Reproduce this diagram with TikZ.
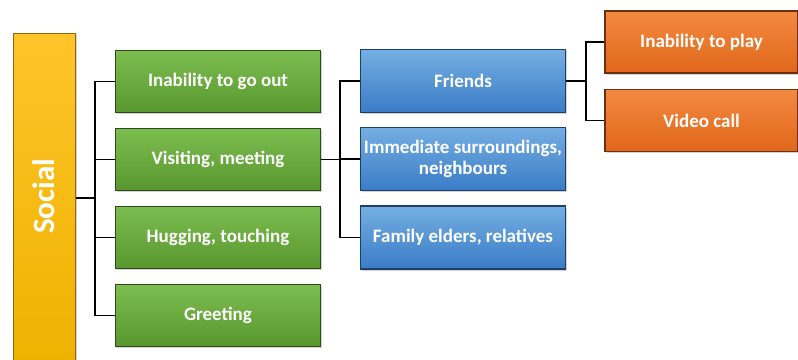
\documentclass[tikz,border=0pt]{standalone}
\usepackage{fontspec}
\setmainfont{Carlito}
\usetikzlibrary{shadows}
\definecolor{gtop}{HTML}{7CBD50}
\definecolor{gbot}{HTML}{58972E}
\definecolor{gline}{HTML}{2E4A1A}
\definecolor{btop}{HTML}{74AEE2}
\definecolor{bbot}{HTML}{3A7CC6}
\definecolor{bline}{HTML}{1F3F66}
\definecolor{otop}{HTML}{F38A40}
\definecolor{obot}{HTML}{E0661A}
\definecolor{oline}{HTML}{6A3010}
\definecolor{ytop}{HTML}{FFC42A}
\definecolor{ybot}{HTML}{EEB200}
\definecolor{yline}{HTML}{8A6A10}
\tikzset{
  box/.style={rectangle, inner sep=1pt, align=center, text=white,
    font=\fontsize{19}{21}\selectfont\bfseries, line width=1.2pt,
    drop shadow={shadow xshift=1.5pt, shadow yshift=-1.5pt, opacity=0.35}},
  gbox/.style={box, minimum width=205pt, minimum height=62pt, draw=gline, top color=gtop, bottom color=gbot},
  bbox/.style={box, minimum width=205pt, minimum height=63pt, draw=bline, top color=btop, bottom color=bbot},
  obox/.style={box, minimum width=193pt, minimum height=62pt, draw=oline, top color=otop, bottom color=obot},
  conn/.style={line width=1.3pt, black}
}
\begin{document}
\begin{tikzpicture}[x=1pt,y=-1pt]
\useasboundingbox (0,0) rectangle (798,359);
% Social bar
\node[box, minimum width=62pt, minimum height=330pt, draw=yline, top color=ytop, bottom color=ybot, anchor=north west] (social) at (13,33) {};
\node[text=white, rotate=90, font=\fontsize{31}{33}\selectfont\bfseries] (soctext) at (44,196.5) {Social};
% green
\node[gbox] (g1) at (218,81.5) {Inability to go out};
\node[gbox] (g2) at (218,159.5) {Visiting, meeting};
\node[gbox] (g3) at (218,237.5) {Hugging, touching};
\node[gbox] (g4) at (218,315.5) {Greeting};
% blue
\node[bbox] (b1) at (463,81) {Friends};
\node[bbox] (b2) at (463,159) {Immediate surroundings,\\neighbours};
\node[bbox] (b3) at (463,237.5) {Family elders, relatives};
% orange
\node[obox] (o1) at (701.5,42) {Inability to play};
\node[obox] (o2) at (701.5,120.5) {Video call};
% connectors
\coordinate (j1) at (95,198);
\draw[conn] (social.east |- j1) -- (j1);
\draw[conn] (g1.west) -| (j1);
\draw[conn] (g2.west) -| (j1);
\draw[conn] (g3.west) -| (j1);
\draw[conn] (g4.west) -| (j1);
\coordinate (j2) at (340,159.5);
\draw[conn] (g2.east) -- (j2);
\draw[conn] (b1.west) -| (j2);
\draw[conn] (b2.west) -| (j2);
\draw[conn] (b3.west) -| (j2);
\coordinate (j3) at (586,81);
\draw[conn] (b1.east) -- (j3);
\draw[conn] (o1.west) -| (j3);
\draw[conn] (o2.west) -| (j3);
\end{tikzpicture}
\end{document}
